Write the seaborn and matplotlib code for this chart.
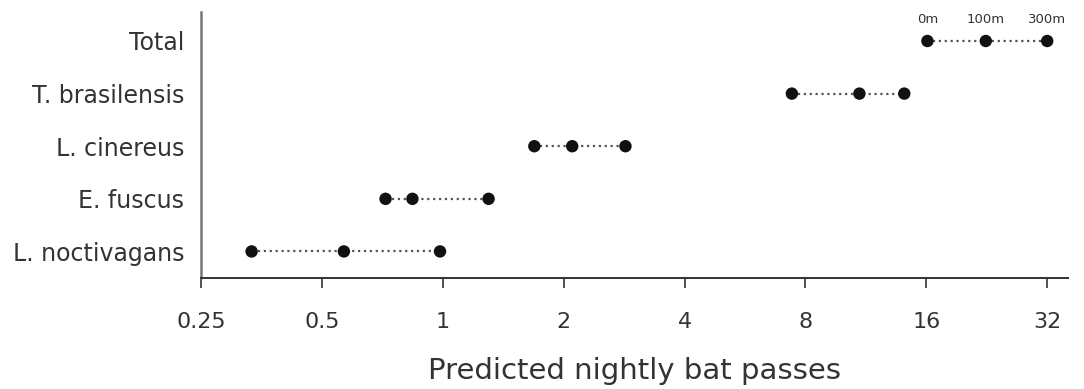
import numpy as np
import pandas as pd
import matplotlib
matplotlib.use('Agg')
import matplotlib.pyplot as plt
import seaborn as sns

# data (predicted nightly passes at 0m, 100m, 300m)
species = ['Total', 'T. brasilensis', 'L. cinereus', 'E. fuscus', 'L. noctivagans']
distances = ['0m', '100m', '300m']
passes_0m = [16.1, 7.4, 1.69, 0.72, 0.334]
passes_100m = [22.5, 10.9, 2.10, 0.84, 0.567]
passes_300m = [32.0, 14.1, 2.85, 1.30, 0.984]
xticks = [0.25, 0.5, 1, 2, 4, 8, 16, 32]
xtick_labels = ['0.25', '0.5', '1', '2', '4', '8', '16', '32']

df = pd.DataFrame({
    'species': np.repeat(species, 3),
    'distance': distances * len(species),
    'passes': np.ravel(np.column_stack([passes_0m, passes_100m, passes_300m])),
})

sns.set_style('white')
plt.rcParams['font.family'] = ['DejaVu Sans']

fig = plt.figure(figsize=(10.84, 3.89), dpi=100)
ax = fig.add_axes([0.1855, 0.286, 0.7995, 0.683])

# dotted connectors per species
for sp, sub in df.groupby('species', sort=False):
    ax.plot(sub['passes'], sub['species'], linestyle=':', color='#555555',
            linewidth=1.6, zorder=1)

sns.scatterplot(data=df, x='passes', y='species', color='#111111', s=80,
                edgecolor='none', zorder=2, ax=ax, legend=False)

# distance labels above the Total row
tot = df[df['species'] == 'Total']
for _, row in tot.iterrows():
    ax.annotate(row['distance'], (row['passes'], row['species']),
                xytext=(0, 11), textcoords='offset points', ha='center',
                va='bottom', fontsize=9.5, color='#333333')

ax.set_xscale('log', base=2)
ax.set_xlim(0.25, 36.0)
ax.set_ylim(len(species) - 0.5, -0.55)
ax.set_xticks(xticks)
ax.set_xticklabels(xtick_labels)
ax.minorticks_off()

ax.set_xlabel('Predicted nightly bat passes', fontsize=21, color='#333333',
              labelpad=18)
ax.set_ylabel('')

for side in ['top', 'right']:
    ax.spines[side].set_visible(False)
ax.spines['left'].set_color('#777777')
ax.spines['left'].set_linewidth(1.8)
ax.spines['bottom'].set_color('#333333')
ax.spines['bottom'].set_linewidth(1.4)

ax.tick_params(axis='x', direction='out', length=7.5, width=1.2, color='#333333',
               labelsize=16, labelcolor='#333333', pad=17, bottom=True)
ax.tick_params(axis='y', length=0, labelsize=17, labelcolor='#333333', pad=12)

plt.savefig('out.png', dpi=100)
plt.close()
